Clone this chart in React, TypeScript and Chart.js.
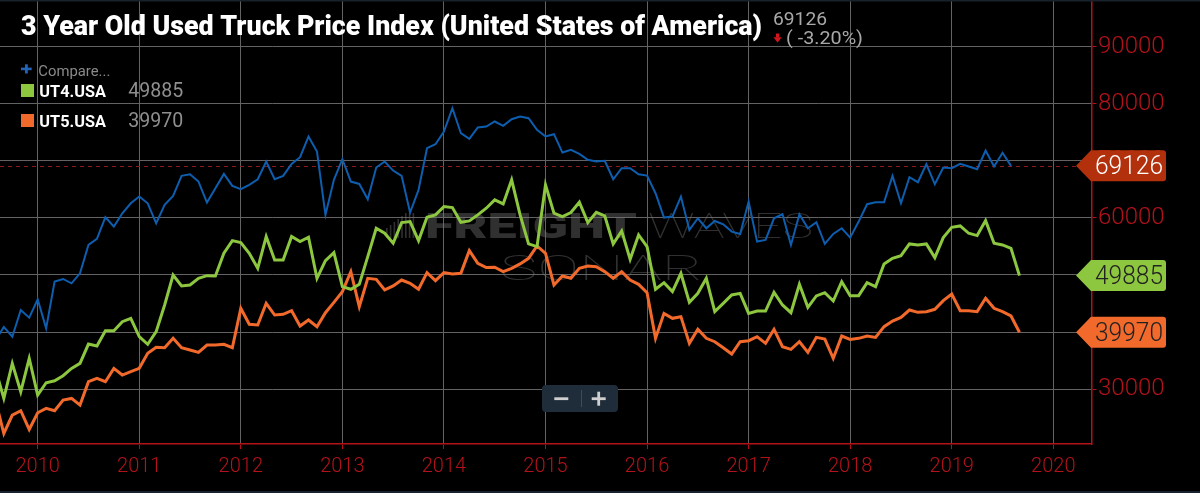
import React, { useEffect, useRef } from 'react';
import { Chart, registerables } from 'chart.js';

Chart.register(...registerables);

// ---- data ----
const START_YEAR = 2009;
const START_MONTH = 8; // first monthly point: Aug 2009

const UT3_USA = [
  38500, 40900, 39180, 43860, 42510,
  45730, 40640, 48830, 49300, 48540, 50290, 55260, 56320, 60120, 58480, 60820, 62570,
  63740, 62570, 59060, 62280, 63860, 67370, 67660, 66370, 62690, 65200, 67720, 65610,
  65030, 65790, 66780, 69880, 66780, 67370, 69470, 70640, 74270, 71640, 60530, 66670,
  70290, 66370, 65960, 63270, 68830, 69880, 68300, 67370, 60940, 64910, 72220, 72920,
  75150, 79240, 74850, 73860, 75850, 76020, 76900, 76140, 77310, 77780, 77490, 75440,
  74270, 74680, 71460, 71930, 71230, 70180, 69880, 70000, 66780, 68710, 68710, 67660,
  67430, 64330, 60060, 60240, 63740, 57890, 59940, 58190, 59470, 58890, 57600, 57190,
  62870, 55850, 56140, 59940, 60640, 55260, 60640, 58190, 59240, 55440, 57190, 58190,
  56550, 59360, 62400, 62750, 62750, 67370, 62570, 67130, 66260, 69420, 65910, 68830,
  68710, 69470, 69010, 68540, 71810, 69010, 71410, 69126,
];

const UT4_USA = [
  33570, 28360, 34500, 29530, 35380,
  28950, 31110, 31460, 32340, 33630, 34500, 37890, 37540, 40230, 40230, 41810, 42400,
  39180, 37840, 40060, 44740, 50000, 48070, 48250, 49420, 49880, 49820, 53800, 56020,
  55670, 53800, 51170, 56730, 52630, 52630, 56730, 55850, 56610, 49420, 52510, 53920,
  47950, 47490, 48360, 53220, 58190, 57310, 55560, 59180, 59360, 56020, 60120, 60530,
  61990, 61810, 59240, 59470, 60530, 61700, 63160, 62460, 66670, 60530, 55440, 54970,
  65790, 60820, 60230, 60940, 62750, 59180, 60990, 60350, 55440, 57720, 52750, 57020,
  54970, 47490, 48650, 47080, 50290, 45200, 46780, 49420, 43570, 45030, 46490, 46780,
  43270, 43680, 43680, 46960, 44740, 43390, 48360, 44330, 46320, 46900, 45440, 48830,
  46370, 46370, 48650, 47950, 51930, 52920, 53390, 55440, 55260, 55440, 53040, 56550,
  58360, 58600, 57310, 56900, 59530, 55560, 55260, 54680, 49885,
];

const UT5_USA = [
  28070, 22220, 25440, 26200, 22920,
  25850, 26610, 26200, 28070, 28360, 27190, 31290, 31870, 31290, 33630, 32460, 33040,
  33630, 36260, 37310, 37250, 38890, 37250, 36840, 36430, 37720, 37720, 37840, 37250,
  44150, 41350, 41230, 45030, 42980, 43100, 43740, 41050, 42110, 40940, 43390, 45200,
  47080, 50580, 44440, 49420, 49240, 47370, 48070, 49120, 48540, 47490, 50410, 49010,
  50410, 50180, 50290, 54270, 52050, 51290, 51350, 50580, 51170, 51930, 52920, 55090,
  53800, 48250, 49820, 49420, 51170, 51580, 51460, 50580, 49420, 50580, 49120, 48360,
  46900, 38890, 43270, 42400, 42690, 38010, 40470, 38890, 38300, 37250, 36140, 38300,
  38480, 39180, 38010, 40470, 37430, 36960, 38300, 36430, 39060, 38770, 35380, 39300,
  38710, 38890, 39300, 39060, 40940, 41930, 42570, 43860, 43450, 43570, 43980, 45500,
  46670, 43740, 43740, 43570, 45910, 44150, 43570, 42810, 39970,
];

const YEAR_TICKS = [2010, 2011, 2012, 2013, 2014, 2015, 2016, 2017, 2018, 2019, 2020];
const PRICE_TICKS = [30000, 40000, 50000, 60000, 70000, 80000, 90000];

const TITLE = '3 Year Old Used Truck Price Index (United States of America)';
const CHANGE_TEXT = '( -3.20%)';
const COMPARE_TEXT = 'Compare...';
const SERIES_NAMES = ['UT3.USA', 'UT4.USA', 'UT5.USA'];

// ---- style ----
const BLUE = '#0d5eaf';
const GREEN = '#8dc63f';
const ORANGE = '#f26a2b';
const RED = '#b3121b';
const GRID = '#636363';

const X_MIN = 2009.629;
const X_MAX = 2020.376;
const Y_MIN = 20370;
const Y_MAX = 98200;

function toPoints(values: number[]) {
  return values.map((v, i) => ({ x: START_YEAR + (START_MONTH - 1 + i) / 12, y: v }));
}

function fitText(
  ctx: CanvasRenderingContext2D,
  text: string,
  x: number,
  y: number,
  width: number,
  font: string,
  color: string
) {
  ctx.save();
  ctx.font = font;
  ctx.fillStyle = color;
  ctx.textBaseline = 'alphabetic';
  ctx.textAlign = 'left';
  const w = ctx.measureText(text).width || 1;
  ctx.translate(x, y);
  ctx.scale(width / w, 1);
  ctx.fillText(text, 0, 0);
  ctx.restore();
}

function drawTag(
  ctx: CanvasRenderingContext2D,
  yc: number,
  fill: string,
  text: string,
  textColor: string
) {
  const tip = 1076;
  const base = 1091;
  const right = 1166;
  const h = 31;
  const r = 3;
  const top = yc - h / 2;
  const bot = yc + h / 2;
  ctx.save();
  ctx.beginPath();
  ctx.moveTo(tip, yc);
  ctx.lineTo(base, top);
  ctx.lineTo(right - r, top);
  ctx.quadraticCurveTo(right, top, right, top + r);
  ctx.lineTo(right, bot - r);
  ctx.quadraticCurveTo(right, bot, right - r, bot);
  ctx.lineTo(base, bot);
  ctx.closePath();
  ctx.fillStyle = fill;
  ctx.fill();
  ctx.restore();
  fitText(ctx, text, 1095, yc + 8.5, 68, '300 25px Roboto', textColor);
}

const overlayPlugin = {
  id: 'overlay',
  beforeDraw(chart: any) {
    const ctx = chart.ctx as CanvasRenderingContext2D;
    ctx.save();
    ctx.fillStyle = '#000';
    ctx.fillRect(0, 0, chart.width, chart.height);
    ctx.restore();
  },
  beforeDatasetsDraw(chart: any) {
    const ctx = chart.ctx as CanvasRenderingContext2D;
    const wm = 'rgba(120,120,120,0.4)';
    // watermark logo bars
    ctx.save();
    ctx.fillStyle = wm;
    const barH = [10, 13, 16, 19, 22, 25, 25, 25];
    for (let i = 0; i < barH.length; i++) {
      ctx.fillRect(386 + i * 3.8, 238 - barH[i], 1.6, barH[i]);
    }
    ctx.restore();
    fitText(ctx, 'FREIGHT', 425, 238, 212, '900 35px Roboto', wm);
    fitText(ctx, 'WAVES', 648, 238, 165, '100 35px Roboto', wm);
    fitText(ctx, 'SONAR', 500, 280, 203, '100 35px Roboto', wm);

    // dashed last-value line
    const y = chart.scales.y.getPixelForValue(UT3_USA[UT3_USA.length - 1]);
    ctx.save();
    ctx.strokeStyle = '#8e1b1b';
    ctx.lineWidth = 1;
    ctx.setLineDash([4, 4]);
    ctx.beginPath();
    ctx.moveTo(0, Math.round(y) + 0.5);
    ctx.lineTo(1076, Math.round(y) + 0.5);
    ctx.stroke();
    ctx.restore();
  },
  afterDraw(chart: any) {
    const ctx = chart.ctx as CanvasRenderingContext2D;
    const ys = chart.scales.y;

    // frame lines
    ctx.save();
    ctx.fillStyle = '#18222d';
    ctx.fillRect(0, 0, chart.width, 1.5);
    ctx.fillRect(0, chart.height - 2, chart.width, 2);
    ctx.restore();

    // title
    fitText(ctx, TITLE, 21, 35, 741, '900 28px Roboto', '#ffffff');
    const last3 = UT3_USA[UT3_USA.length - 1];
    fitText(ctx, String(last3), 773, 25, 54, '19px Roboto', '#a8a8a8');
    // down arrow
    ctx.save();
    ctx.fillStyle = '#d3151d';
    ctx.fillRect(776, 33.5, 3.2, 4);
    ctx.beginPath();
    ctx.moveTo(773.4, 37.3);
    ctx.lineTo(781.8, 37.3);
    ctx.lineTo(777.6, 42.5);
    ctx.closePath();
    ctx.fill();
    ctx.restore();
    fitText(ctx, CHANGE_TEXT, 786, 44, 77, '19px Roboto', '#a8a8a8');

    // legend
    ctx.save();
    ctx.fillStyle = '#2164b8';
    ctx.fillRect(21, 67.6, 10.7, 2.6);
    ctx.fillRect(25, 64.3, 2.8, 9.2);
    ctx.restore();
    fitText(ctx, COMPARE_TEXT, 38.3, 76, 72, '15px Roboto', '#8a8a8a');

    const last4 = UT4_USA[UT4_USA.length - 1];
    const last5 = UT5_USA[UT5_USA.length - 1];
    ctx.save();
    ctx.fillStyle = GREEN;
    ctx.fillRect(21, 84, 13, 13);
    ctx.fillStyle = ORANGE;
    ctx.fillRect(21, 114, 13, 13);
    ctx.restore();
    fitText(ctx, SERIES_NAMES[1], 39.3, 96.7, 66.7, 'bold 17px Roboto', '#ffffff');
    fitText(ctx, String(last4), 128.3, 97.2, 55, '20px Roboto', '#8f8f8f');
    fitText(ctx, SERIES_NAMES[2], 39.3, 126.7, 66.7, 'bold 17px Roboto', '#ffffff');
    fitText(ctx, String(last5), 128.3, 127.2, 55, '20px Roboto', '#8f8f8f');

    // price tags on the right axis
    drawTag(ctx, ys.getPixelForValue(last3), '#b3300d', String(last3), '#ffffff');
    drawTag(ctx, ys.getPixelForValue(last4), GREEN, String(last4), '#222222');
    drawTag(ctx, ys.getPixelForValue(last5), ORANGE, String(last5), '#222222');

    // zoom buttons
    ctx.save();
    ctx.fillStyle = '#1f2c39';
    const bx = 542, by = 385, bw = 76, bh = 27, br = 4;
    ctx.beginPath();
    ctx.moveTo(bx + br, by);
    ctx.lineTo(bx + bw - br, by);
    ctx.quadraticCurveTo(bx + bw, by, bx + bw, by + br);
    ctx.lineTo(bx + bw, by + bh - br);
    ctx.quadraticCurveTo(bx + bw, by + bh, bx + bw - br, by + bh);
    ctx.lineTo(bx + br, by + bh);
    ctx.quadraticCurveTo(bx, by + bh, bx, by + bh - br);
    ctx.lineTo(bx, by + br);
    ctx.quadraticCurveTo(bx, by, bx + br, by);
    ctx.closePath();
    ctx.fill();
    ctx.fillStyle = '#3d4c5b';
    ctx.fillRect(581, 390, 1, 17);
    ctx.fillStyle = '#cfcfcf';
    ctx.fillRect(554.3, 397.3, 14, 2.8);
    ctx.fillRect(591.7, 397.3, 14, 2.8);
    ctx.fillRect(597.3, 391.7, 2.8, 14);
    ctx.restore();
  },
};

export default function App() {
  const canvasRef = useRef<HTMLCanvasElement | null>(null);

  useEffect(() => {
    const canvas = canvasRef.current;
    if (!canvas) return;
    const chart = new Chart(canvas, {
      type: 'line',
      data: {
        datasets: [
          {
            label: SERIES_NAMES[0],
            data: toPoints(UT3_USA),
            borderColor: BLUE,
            borderWidth: 2,
            pointRadius: 0,
            tension: 0,
            fill: false,
          },
          {
            label: SERIES_NAMES[1],
            data: toPoints(UT4_USA),
            borderColor: GREEN,
            borderWidth: 3,
            pointRadius: 0,
            tension: 0,
            fill: false,
          },
          {
            label: SERIES_NAMES[2],
            data: toPoints(UT5_USA),
            borderColor: ORANGE,
            borderWidth: 3,
            pointRadius: 0,
            tension: 0,
            fill: false,
          },
        ],
      },
      options: {
        responsive: false,
        animation: false,
        devicePixelRatio: 1,
        layout: { padding: 0 },
        plugins: {
          legend: { display: false },
          tooltip: { enabled: false },
          title: { display: false },
        },
        elements: { line: { borderJoinStyle: 'miter' as any, borderCapStyle: 'butt' as any } },
        scales: {
          x: {
            type: 'linear',
            min: X_MIN,
            max: X_MAX,
            afterBuildTicks: (s: any) => {
              s.ticks = YEAR_TICKS.map((v) => ({ value: v }));
            },
            afterFit: (s: any) => {
              s.height = 49;
              s.paddingLeft = 0;
              s.paddingRight = 0;
              s.paddingTop = 0;
              s.paddingBottom = 0;
            },
            grid: {
              color: GRID,
              lineWidth: 1,
              drawTicks: true,
              tickLength: 5,
              tickColor: RED,
            },
            border: { color: RED, width: 1.5 },
            ticks: {
              color: RED,
              font: { family: 'Roboto', size: 20, weight: '300' as any },
              padding: 6,
              maxRotation: 0,
              autoSkip: false,
              callback: (v: any) => String(v),
            },
          },
          y: {
            type: 'linear',
            position: 'right',
            min: Y_MIN,
            max: Y_MAX,
            afterBuildTicks: (s: any) => {
              s.ticks = PRICE_TICKS.map((v) => ({ value: v }));
            },
            afterFit: (s: any) => {
              s.width = 108.5;
              s.paddingLeft = 0;
              s.paddingRight = 0;
              s.paddingTop = 0;
              s.paddingBottom = 0;
            },
            grid: {
              color: GRID,
              lineWidth: 1,
              drawTicks: true,
              tickLength: 5,
              tickColor: RED,
            },
            border: { color: RED, width: 1.5 },
            ticks: {
              color: RED,
              font: { family: 'Roboto', size: 24, weight: '300' as any },
              padding: 1.5,
              autoSkip: false,
              callback: (v: any) => String(v),
            },
          },
        },
      },
      plugins: [overlayPlugin],
    });
    return () => chart.destroy();
  }, []);

  return (
    <div
      style={{
        position: 'fixed',
        left: 0,
        top: 0,
        width: 1200,
        height: 493,
        background: '#000',
        overflow: 'hidden',
      }}
    >
      <canvas ref={canvasRef} width={1200} height={493} style={{ display: 'block' }} />
    </div>
  );
}
